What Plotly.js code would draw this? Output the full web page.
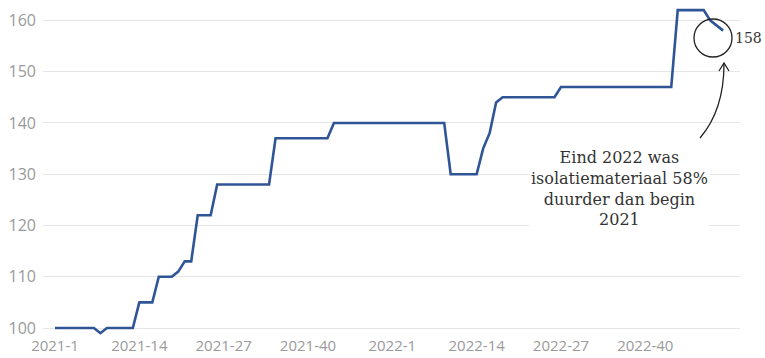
<!DOCTYPE html>
<html>
<head>
<meta charset="utf-8">
<script src="https://cdn.plot.ly/plotly-3.0.1.min.js"></script>
<style>html,body{margin:0;padding:0;background:#fff;}#chart{width:765px;height:358px;}</style>
</head>
<body>
<div id="chart"></div>
<script>
// Week labels 2021-1 .. 2022-52
const weeks = [];
for (let y of [2021, 2022]) { for (let w = 1; w <= 52; w++) weeks.push(y + '-' + w); }

// Price index per week
const index2021 = [
  100,100,100,100,100,100,100, 99,100,100,100,100,100,105,105,105,
  110,110,110,111,113,113,122,122,122,128,128,128,128,128,128,128,
  128,128,137,137,137,137,137,137,137,137,137,140,140,140,140,140,
  140,140,140,140
];
const index2022 = [
  140,140,140,140,140,140,140,140,140,130,130,130,130,130,135,138,
  144,145,145,145,145,145,145,145,145,145,147,147,147,147,147,147,
  147,147,147,147,147,147,147,147,147,147,147,147,162,162,162,162,
  162,160,159,158
];
const values = index2021.concat(index2022);

const tickLabels = ['2021-1','2021-14','2021-27','2021-40','2022-1','2022-14','2022-27','2022-40'];
const yTicks = [100,110,120,130,140,150,160];

const lastValue = values[values.length - 1];
const noteText = 'Eind 2022 was<br>isolatiemateriaal 58%<br>duurder dan begin<br>2021';

// pixel -> paper helpers for decorations
const L = 43, R = 25, T = 5, B = 23, W = 765, H = 358;
const pw = W - L - R, ph = H - T - B;
const px = x => (x - L) / pw;
const py = y => (H - B - y) / ph;

const trace = {
  x: weeks,
  y: values,
  type: 'scatter',
  mode: 'lines',
  line: {color: '#2f5597', width: 2.6, shape: 'linear'},
  hoverinfo: 'skip'
};

const arrowPath = `M ${px(700)},${py(138)} Q ${px(724)},${py(110)} ${px(724)},${py(64)}`;
const headPath = `M ${px(719)},${py(71)} L ${px(724)},${py(63)} L ${px(729)},${py(71)}`;

const layout = {
  width: W, height: H,
  margin: {l: L, r: R, t: T, b: B, pad: 0},
  paper_bgcolor: '#fff', plot_bgcolor: '#fff',
  showlegend: false,
  font: {family: 'Open Sans, sans-serif', size: 15, color: '#9a9a9a'},
  xaxis: {
    type: 'category',
    range: [-1.85, 105.6],
    tickmode: 'array',
    tickvals: tickLabels,
    ticktext: tickLabels,
    showgrid: false, zeroline: false, showline: false, ticks: '',
    tickfont: {size: 15, color: '#9a9a9a'},
    fixedrange: true
  },
  yaxis: {
    range: [98.64, 163],
    tickmode: 'array',
    tickvals: yTicks,
    showgrid: true, gridcolor: '#e6e6e6', gridwidth: 1,
    zeroline: false, showline: false, ticks: '',
    ticklabelstandoff: 6,
    tickfont: {size: 16, color: '#9a9a9a'},
    fixedrange: true
  },
  shapes: [
    {type: 'circle', xref: 'paper', yref: 'paper',
     x0: px(694), x1: px(732), y0: py(57), y1: py(19),
     line: {color: '#222', width: 1.3}},
    {type: 'path', xref: 'paper', yref: 'paper', path: arrowPath,
     line: {color: '#222', width: 1.3}},
    {type: 'path', xref: 'paper', yref: 'paper', path: headPath,
     line: {color: '#222', width: 1.3}}
  ],
  annotations: [
    {xref: 'paper', yref: 'paper', x: px(733), y: py(38), xanchor: 'left', yanchor: 'middle',
     text: String(lastValue), showarrow: false,
     font: {family: 'DejaVu Serif, serif', size: 14, color: '#333'}},
    {xref: 'paper', yref: 'paper', x: px(619), y: py(188.5), xanchor: 'center', yanchor: 'middle',
     text: noteText, showarrow: false, align: 'center', bgcolor: '#fff',
     font: {family: 'DejaVu Serif, serif', size: 16, color: '#333'}}
  ]
};

Plotly.newPlot('chart', [trace], layout, {displayModeBar: false, staticPlot: true});
</script>
</body>
</html>
